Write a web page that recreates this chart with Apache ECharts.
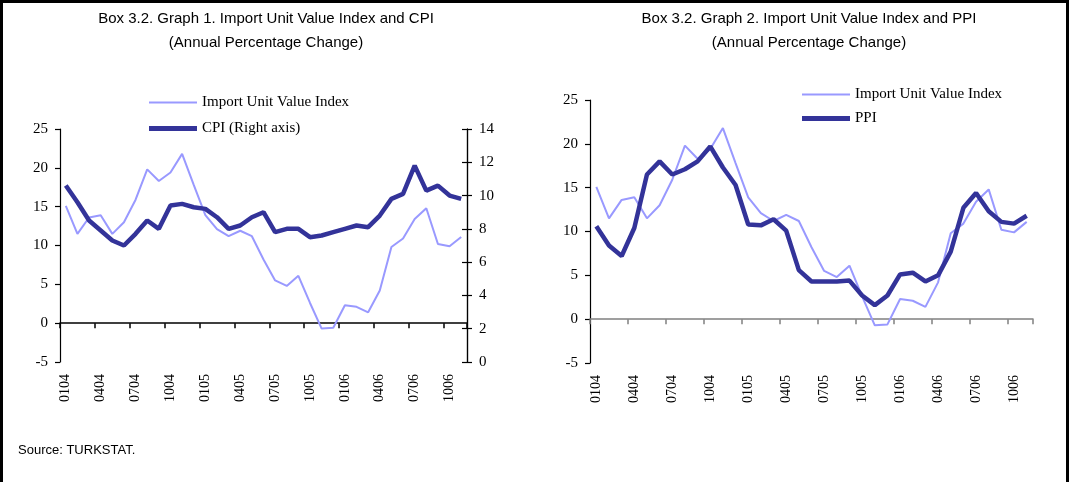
<!DOCTYPE html>
<html>
<head>
<meta charset="utf-8">
<script src="https://cdn.jsdelivr.net/npm/echarts@6/dist/echarts.min.js"></script>
<style>
  html, body { margin: 0; padding: 0; background: #fff; }
  #chart { width: 1069px; height: 482px; }
</style>
</head>
<body>
<div id="chart"></div>
<script>
// monthly categories, Jan 2004 - Nov 2006
const months = [
  '0104', '0204', '0304', '0404', '0504', '0604', '0704', '0804', '0904', '1004', '1104', '1204',
  '0105', '0205', '0305', '0405', '0505', '0605', '0705', '0805', '0905', '1005', '1105', '1205',
  '0106', '0206', '0306', '0406', '0506', '0606', '0706', '0806', '0906', '1006', '1106'
];

// annual % change
const importUnitValue = [
  15.1, 11.5, 13.6, 13.9, 11.5, 13.0, 15.9, 19.8, 18.3, 19.4, 21.8, 17.8,
  13.9, 12.1, 11.2, 11.9, 11.2, 8.2, 5.5, 4.8, 6.1, 2.6, -0.7, -0.6,
  2.3, 2.1, 1.4, 4.2, 9.8, 10.9, 13.4, 14.8, 10.2, 9.9, 11.1
];
const cpi = [
  10.6, 9.6, 8.5, 7.9, 7.3, 7.0, 7.7, 8.5, 8.0, 9.4, 9.5, 9.3,
  9.2, 8.7, 8.0, 8.2, 8.7, 9.0, 7.8, 8.0, 8.0, 7.5, 7.6, 7.8,
  8.0, 8.2, 8.1, 8.8, 9.8, 10.1, 11.8, 10.3, 10.6, 10.0, 9.8
];
const ppi = [
  10.6, 8.4, 7.2, 10.4, 16.5, 18.0, 16.5, 17.1, 18.0, 19.7, 17.3, 15.3,
  10.8, 10.7, 11.4, 10.1, 5.6, 4.3, 4.3, 4.3, 4.4, 2.7, 1.6, 2.7,
  5.1, 5.3, 4.3, 5.0, 7.7, 12.7, 14.4, 12.3, 11.1, 10.9, 11.8
];

const leftTicks = { min: -5, max: 25, interval: 5 };
const cpiTicks = { min: 0, max: 14, interval: 2 };

const lightColor = '#9999FF';
const darkColor = '#333399';
const serif = 'Liberation Serif';
const sans = "'Liberation Sans Narrow', 'Arial Narrow', 'Liberation Sans', sans-serif";

const myChart = echarts.init(document.getElementById('chart'));

// label axis sits at the bottom, a second one draws the line through zero
function xAxes(grid, zeroColor) {
  return [
    {
      gridIndex: grid,
      type: 'category',
      position: 'bottom',
      data: months,
      boundaryGap: true,
      axisLine: { show: false, onZero: false },
      axisTick: { show: false },
      axisLabel: {
        interval: 2,
        rotate: 90,
        margin: 12,
        fontFamily: serif,
        fontSize: 14,
        color: '#000'
      }
    },
    {
      gridIndex: grid,
      type: 'category',
      position: 'bottom',
      data: months,
      boundaryGap: true,
      axisLine: { show: true, onZero: true, lineStyle: { color: zeroColor, width: 1.5 } },
      axisTick: { show: true, interval: 2, length: 5, lineStyle: { color: zeroColor, width: 1.5 } },
      axisLabel: { show: false }
    }
  ];
}

function valueAxis(grid, ticks, position, tickInside, showLabel) {
  return {
    gridIndex: grid,
    type: 'value',
    position: position,
    min: ticks.min,
    max: ticks.max,
    interval: ticks.interval,
    splitLine: { show: false },
    axisLine: { show: true, onZero: false, lineStyle: { color: '#000', width: 1.2 } },
    axisTick: { show: true, inside: tickInside, length: 5, lineStyle: { color: '#000', width: 1.2 } },
    axisLabel: {
      show: showLabel,
      margin: 12,
      fontFamily: serif,
      fontSize: 15,
      color: '#000'
    }
  };
}

function legendItem(name, left, top, height) {
  return {
    data: [name],
    left: left,
    top: top,
    icon: 'rect',
    itemWidth: 48,
    itemHeight: height,
    itemGap: 0,
    textStyle: { fontFamily: serif, fontSize: 15, color: '#000' }
  };
}

const option = {
  animation: false,
  backgroundColor: '#fff',
  title: [
    {
      text: 'Box 3.2. Graph 1. Import Unit Value Index and CPI\n(Annual Percentage Change)',
      left: 261,
      top: 2,
      textAlign: 'center',
      textStyle: { fontFamily: sans, fontSize: 15, fontWeight: 'normal', color: '#000', lineHeight: 24 }
    },
    {
      text: 'Box 3.2. Graph 2. Import Unit Value Index and PPI\n(Annual Percentage Change)',
      left: 804,
      top: 2,
      textAlign: 'center',
      textStyle: { fontFamily: sans, fontSize: 15, fontWeight: 'normal', color: '#000', lineHeight: 24 }
    }
  ],
  legend: [
    legendItem('Import Unit Value Index', 144, 90, 2),
    legendItem('CPI (Right axis)', 144, 116, 5),
    legendItem('Import Unit Value Index ', 797, 82, 2),
    legendItem('PPI', 797, 106, 5)
  ],
  graphic: [
    {
      type: 'text',
      left: 18,
      top: 444,
      style: { text: 'Source: TURKSTAT.', fontFamily: 'Liberation Sans', fontSize: 13, fill: '#000' }
    },
    { type: 'line', shape: { x1: 1.5, y1: 0, x2: 1.5, y2: 482 }, style: { stroke: '#000', lineWidth: 3 } },
    { type: 'line', shape: { x1: 0, y1: 1.5, x2: 1069, y2: 1.5 }, style: { stroke: '#000', lineWidth: 3 } },
    { type: 'line', shape: { x1: 1067.5, y1: 0, x2: 1067.5, y2: 482 }, style: { stroke: '#000', lineWidth: 3 } }
  ],
  grid: [
    { left: 60, right: 602, top: 129, bottom: 120 },
    { left: 590, right: 36, top: 100, bottom: 119 }
  ],
  xAxis: [].concat(xAxes(0, '#000'), xAxes(1, '#808080')),
  yAxis: [
    valueAxis(0, leftTicks, 'left', false, true),
    valueAxis(0, cpiTicks, 'right', false, true),
    valueAxis(0, cpiTicks, 'right', true, false),
    valueAxis(1, leftTicks, 'left', false, true)
  ],
  series: [
    {
      name: 'Import Unit Value Index',
      type: 'line',
      xAxisIndex: 0,
      yAxisIndex: 0,
      data: importUnitValue,
      showSymbol: false,
      color: lightColor,
      lineStyle: { width: 2, color: lightColor },
      z: 2
    },
    {
      name: 'CPI (Right axis)',
      type: 'line',
      xAxisIndex: 0,
      yAxisIndex: 1,
      data: cpi,
      showSymbol: false,
      color: darkColor,
      lineStyle: { width: 4.5, color: darkColor },
      z: 3
    },
    {
      name: 'Import Unit Value Index ',
      type: 'line',
      xAxisIndex: 2,
      yAxisIndex: 3,
      data: importUnitValue,
      showSymbol: false,
      color: lightColor,
      lineStyle: { width: 2, color: lightColor },
      z: 2
    },
    {
      name: 'PPI',
      type: 'line',
      xAxisIndex: 2,
      yAxisIndex: 3,
      data: ppi,
      showSymbol: false,
      color: darkColor,
      lineStyle: { width: 4.5, color: darkColor },
      z: 3
    }
  ]
};

myChart.setOption(option);
</script>
</body>
</html>
